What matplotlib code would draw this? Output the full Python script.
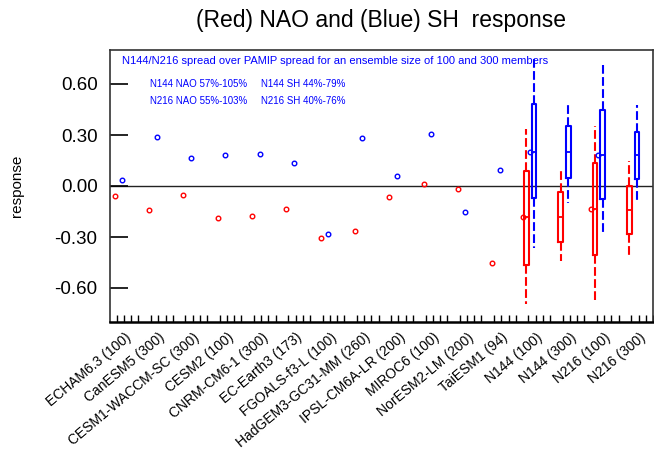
import numpy as np
import matplotlib
matplotlib.use('Agg')
from matplotlib import pyplot as plt
from matplotlib.transforms import ScaledTranslation

plt.rcParams['font.family'] = ['Liberation Sans', 'DejaVu Sans']

labels = ['ECHAM6.3 (100)', 'CanESM5 (300)', 'CESM1-WACCM-SC (300)', 'CESM2 (100)',
          'CNRM-CM6-1 (300)', 'EC-Earth3 (173)', 'FGOALS-f3-L (100)', 'HadGEM3-GC31-MM (260)',
          'IPSL-CM6A-LR (200)', 'MIROC6 (100)', 'NorESM2-LM (200)', 'TaiESM1 (94)',
          'N144 (100)', 'N144 (300)', 'N216 (100)', 'N216 (300)']

# PAMIP model responses
nao_models = [-0.06, -0.14, -0.055, -0.19, -0.175, -0.135, -0.305, -0.265, -0.065, 0.01, -0.02, -0.455]
sh_models = [0.035, 0.29, 0.165, 0.18, 0.19, 0.135, -0.28, 0.28, 0.06, 0.305, -0.15, 0.095]

# N144 / N216 spread (boxes)
nao_whishi = [0.333, 0.09, 0.353, 0.149]
nao_q3 = [0.09, -0.033, 0.137, 0.002]
nao_med = [-0.184, -0.184, -0.137, -0.139]
nao_q1 = [-0.467, -0.331, -0.408, -0.282]
nao_whislo = [-0.694, -0.441, -0.675, -0.406]

sh_whishi = [0.765, 0.496, 0.725, 0.476]
sh_q3 = [0.48, 0.355, 0.447, 0.32]
sh_med = [0.198, 0.2, 0.182, 0.182]
sh_q1 = [-0.072, 0.049, -0.075, 0.039]
sh_whislo = [-0.366, -0.102, -0.284, -0.086]

# 100 member ensemble means (N144 (100), N216 (100))
nao_ens = [-0.184, -0.137]
sh_ens = [0.198, 0.182]

fig = plt.figure(figsize=(6.54, 4.51), dpi=100)
ax = fig.add_axes([110/654, 1-322/451, 543/654, 272/451])

nm = len(nao_models)
xm = np.arange(1, nm + 1)
off = 0.11

ax.axhline(0, color='#222222', lw=1.0, zorder=1)

ax.plot(xm - off, nao_models, 'o', ms=3.3, mfc='none', mec='red', mew=1.0, zorder=3)
ax.plot(xm + off, sh_models, 'o', ms=3.3, mfc='none', mec='blue', mew=1.0, zorder=3)

xb = np.arange(nm + 1, len(labels) + 1)


def make_stats(lo, q1, med, q3, hi):
    return [dict(whislo=a, q1=b, med=c, q3=d, whishi=e, fliers=[])
            for a, b, c, d, e in zip(lo, q1, med, q3, hi)]


for stats, pos, col in [(make_stats(nao_whislo, nao_q1, nao_med, nao_q3, nao_whishi), xb - off, 'red'),
                        (make_stats(sh_whislo, sh_q1, sh_med, sh_q3, sh_whishi), xb + off, 'blue')]:
    ax.bxp(stats, positions=pos, widths=0.13, showcaps=False, showfliers=False,
           manage_ticks=False,
           boxprops=dict(color=col, lw=1.5),
           medianprops=dict(color=col, lw=1.3),
           whiskerprops=dict(color=col, lw=1.5, dashes=(4.2, 1.6)))

xe = xb[[0, 2]]
ax.plot(xe - 2 * off, nao_ens, 'o', ms=3.3, mfc='none', mec='red', mew=1.0, zorder=4)
ax.plot(xe - 0.02, sh_ens, 'o', ms=3.3, mfc='none', mec='blue', mew=1.0, zorder=4)

ax.set_xlim(0.75, 16.25)
ax.set_ylim(-0.8, 0.8)
ax.set_yticks([-0.6, -0.3, 0.0, 0.3, 0.6])
ax.set_yticklabels(['%.2f' % v for v in [-0.6, -0.3, 0.0, 0.3, 0.6]], fontsize=13.5)
ax.tick_params(axis='y', direction='in', length=13, width=1.2, pad=9, right=False)

ax.set_xticks(np.arange(1, len(labels) + 1))
ax.set_xticklabels(labels, rotation=40, ha='right', va='top', rotation_mode='anchor', fontsize=10)
minor = np.concatenate([np.arange(1, len(labels) + 1) - 0.05 + 0.21 * k for k in range(4)])
ax.set_xticks(minor, minor=True)
ax.tick_params(axis='x', which='major', length=0, pad=6)
ax.tick_params(axis='x', which='minor', direction='in', length=5, width=1.0)
for lab in ax.get_xticklabels():
    lab.set_transform(lab.get_transform() + ScaledTranslation(0.06, 0, fig.dpi_scale_trans))

for s in ['top', 'right', 'left']:
    ax.spines[s].set_color('#333333')
    ax.spines[s].set_linewidth(1.2)
ax.spines['bottom'].set_linewidth(1.8)

ax.set_ylabel('response', fontsize=11)
ax.yaxis.set_label_coords(-(110 - 24) / 543, 0.5)

fig.text((110 + 653) / 2 / 654, 1 - 20 / 451, '(Red) NAO and (Blue) SH  response',
         ha='center', va='center', fontsize=16.5)

tc = 'blue'
ax.text(0.023, 0.96, 'N144/N216 spread over PAMIP spread for an ensemble size of 100 and 300 members',
        transform=ax.transAxes, color=tc, fontsize=8, va='center')
ax.text(0.074, 0.875, 'N144 NAO 57%-105%', transform=ax.transAxes, color=tc, fontsize=7, va='center')
ax.text(0.278, 0.875, 'N144 SH 44%-79%', transform=ax.transAxes, color=tc, fontsize=7, va='center')
ax.text(0.074, 0.813, 'N216 NAO 55%-103%', transform=ax.transAxes, color=tc, fontsize=7, va='center')
ax.text(0.278, 0.813, 'N216 SH 40%-76%', transform=ax.transAxes, color=tc, fontsize=7, va='center')

fig.savefig('out.png', dpi=100)
